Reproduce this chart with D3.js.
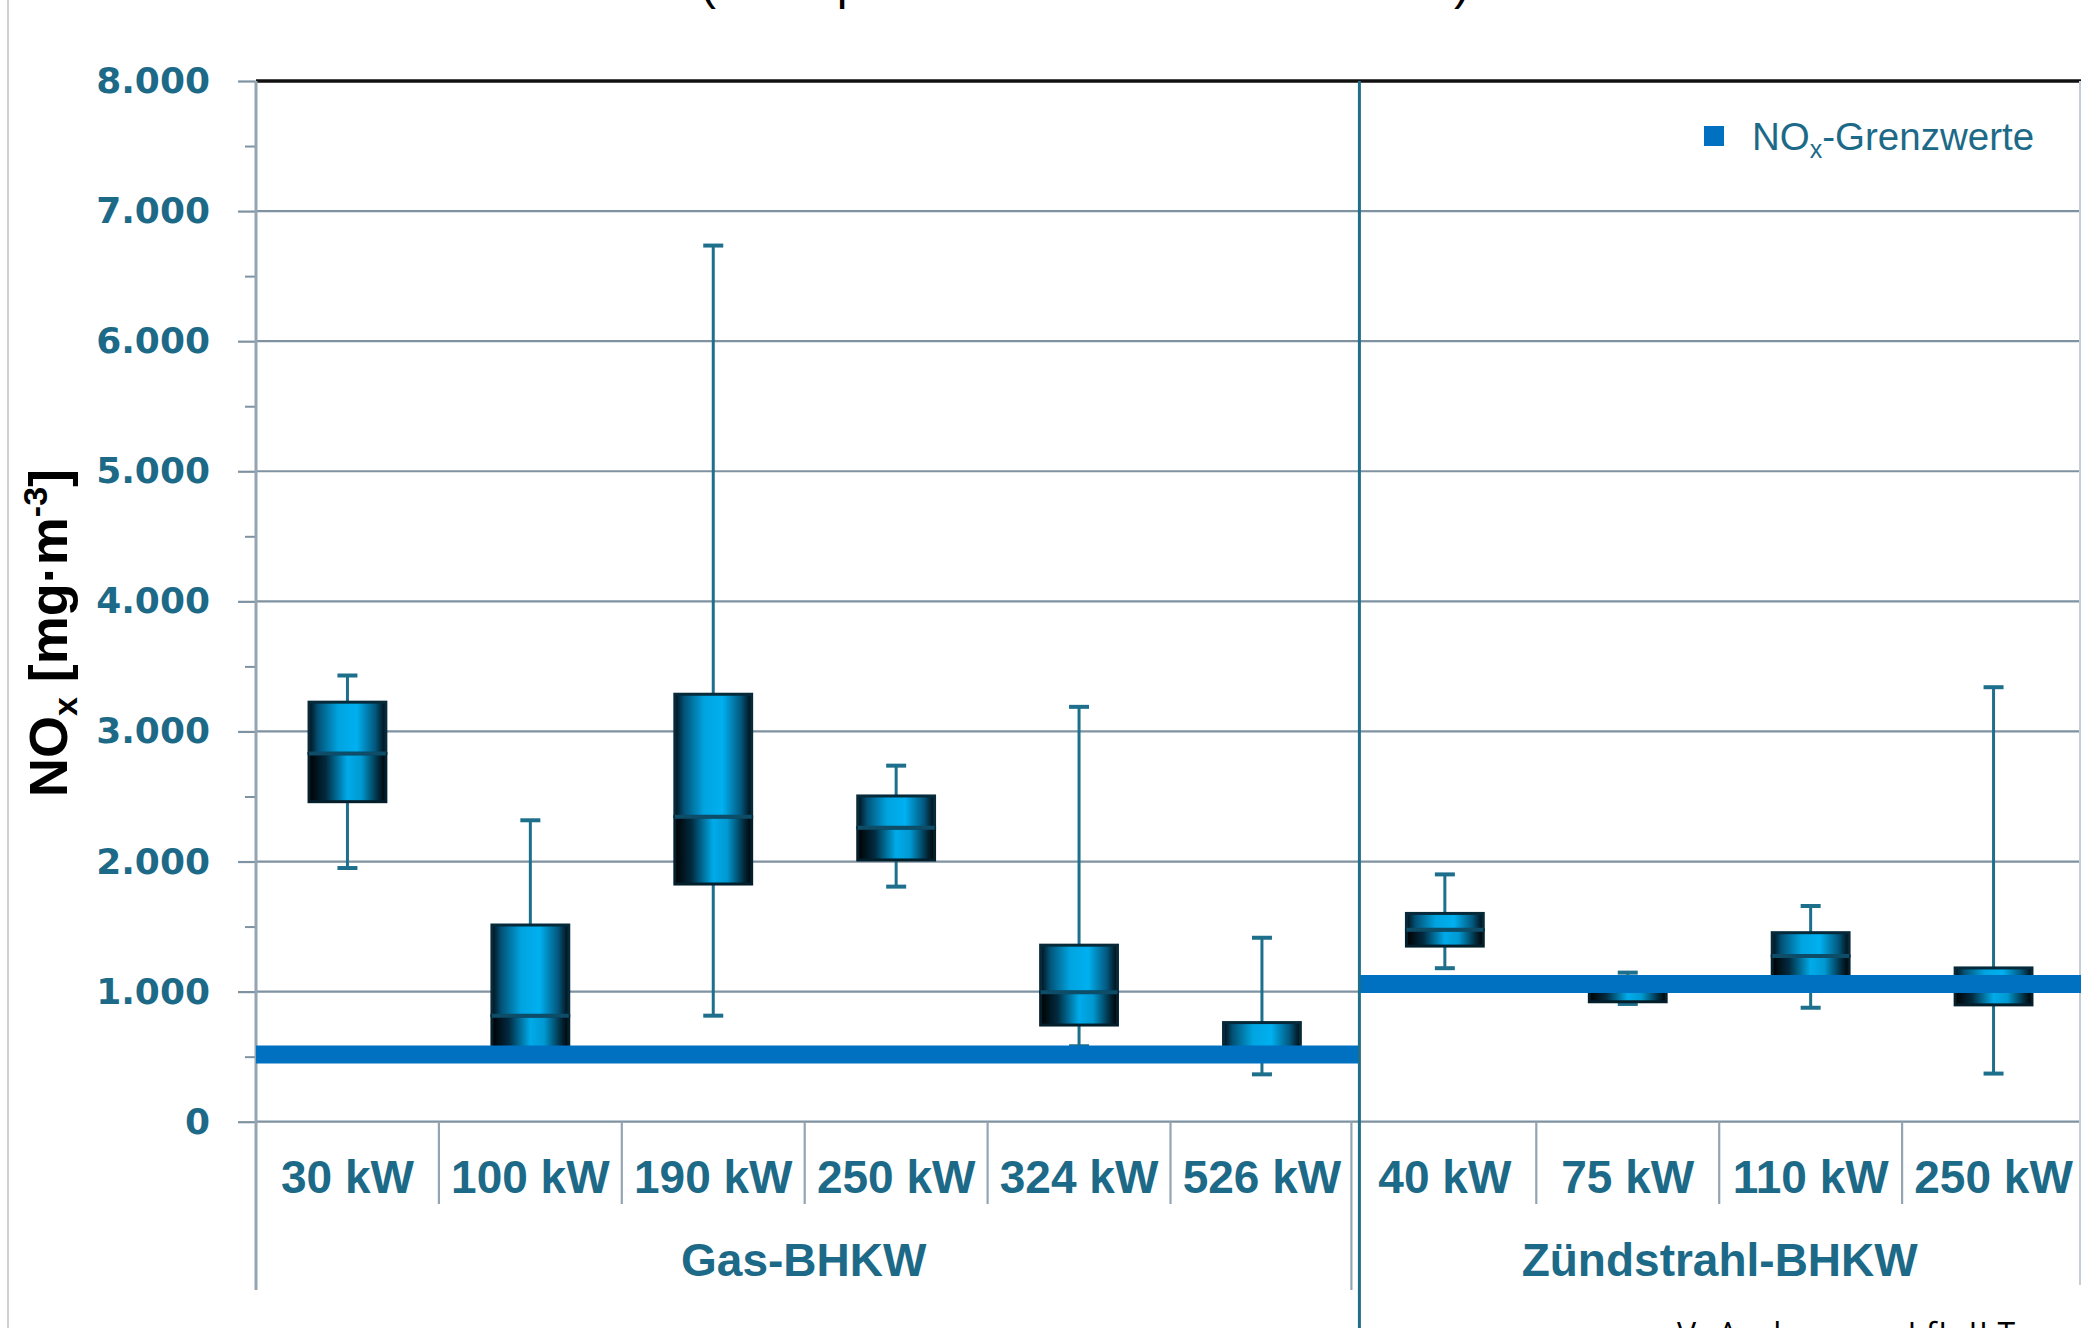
<!DOCTYPE html>
<html>
<head>
<meta charset="utf-8">
<script src="https://cdn.jsdelivr.net/npm/d3@7"></script>
<style>
  html, body { margin: 0; padding: 0; background: #ffffff; }
  svg { display: block; }
</style>
</head>
<body>
<svg id="chart" width="2081" height="1328"></svg>
<script>
// ---- data -------------------------------------------------------------
const categories = ["30 kW", "100 kW", "190 kW", "250 kW", "324 kW", "526 kW",
                    "40 kW", "75 kW", "110 kW", "250 kW"];
const groupNames = ["Gas-BHKW", "Zündstrahl-BHKW"];
const groupSizes = [6, 4];
// NOx limit per engine group [mg/m³]
const limitValues = [516, 1058];

// box plot statistics per engine [mg/m³]
const mins    = [1950,  530,  815, 1807,  580,  364, 1180,  905,  876,  370];
const q1s     = [2460,  560, 1827, 2012,  743,  500, 1350,  922, 1050,  898];
const medians = [2830,  815, 2345, 2260,  995,  560, 1476, 1010, 1274, 1050];
const q3s     = [3225, 1512, 3286, 2504, 1357,  762, 1601, 1090, 1453, 1182];
const maxs    = [3430, 2317, 6735, 2737, 3189, 1414, 1901, 1146, 1658, 3340];

const yTicks      = [0, 1000, 2000, 3000, 4000, 5000, 6000, 7000, 8000];
const yTickLabels = ["0", "1.000", "2.000", "3.000", "4.000", "5.000", "6.000", "7.000", "8.000"];
const yMinorTicks = [500, 1500, 2500, 3500, 4500, 5500, 6500, 7500];

// ---- layout -----------------------------------------------------------
const W = 2081, H = 1328;
const plot = { left: 256, top: 81, bottom: 1121.7, right: 2085 };
const TEAL = "#1c6a87";
const GRID = "#7f92a1";
const LIMIT = "#0070c0";
const SANS = "'Liberation Sans', Arial, sans-serif";

const svg = d3.select("#chart");

const y = d3.scaleLinear().domain([0, 8000]).range([plot.bottom, plot.top]);
const x = d3.scaleBand().domain(d3.range(categories.length))
            .range([plot.left, plot.right]).paddingInner(0).paddingOuter(0);
const boxW = x.bandwidth() * 0.42;

// gradients for the two halves of each box
const defs = svg.append("defs");
function gradient(id, stops) {
  const g = defs.append("linearGradient").attr("id", id)
    .attr("x1", "0%").attr("x2", "100%").attr("y1", "0%").attr("y2", "0%");
  stops.forEach(([o, c]) => g.append("stop").attr("offset", o).attr("stop-color", c));
}
gradient("upperFill", [["0%", "#020f18"], ["12%", "#035276"], ["38%", "#00a4e0"],
                       ["62%", "#00b0f0"], ["86%", "#03587e"], ["100%", "#010a10"]]);
gradient("lowerFill", [["0%", "#000000"], ["22%", "#022b40"], ["50%", "#00abea"],
                       ["68%", "#0099d2"], ["90%", "#022a3c"], ["100%", "#000000"]]);

// page border on the left
svg.append("line").attr("x1", 8).attr("x2", 8).attr("y1", 0).attr("y2", H)
  .attr("stroke", "#d2d2d2").attr("stroke-width", 2);

// partially visible heading above the chart
svg.append("text")
  .attr("x", 700).attr("y", -1)
  .attr("textLength", 770).attr("lengthAdjust", "spacing")
  .attr("font-family", SANS).attr("font-size", 48).attr("fill", "#000")
  .text("(Stichprobe an 10 Praxis-BHKW)");

// horizontal gridlines
svg.append("g").selectAll("line")
  .data(yTicks)
  .join("line")
  .attr("x1", plot.left).attr("x2", W)
  .attr("y1", d => y(d)).attr("y2", d => y(d))
  .attr("stroke", d => d === 8000 ? "#111" : GRID)
  .attr("stroke-width", d => d === 8000 ? 3.5 : 2.2);

// right frame edge
svg.append("line").attr("x1", 2080).attr("x2", 2080).attr("y1", plot.top).attr("y2", 1285)
  .attr("stroke", "#c5ced6").attr("stroke-width", 2);

// y axis
const yAxis = svg.append("g").attr("transform", `translate(${plot.left},0)`)
  .call(d3.axisLeft(y).tickValues(yTicks)
          .tickFormat((d, i) => yTickLabels[i])
          .tickSize(18).tickPadding(28));
yAxis.select(".domain").remove();
yAxis.selectAll(".tick line").attr("stroke", GRID).attr("stroke-width", 2.2);
yAxis.selectAll(".tick text")
  .attr("font-family", "'DejaVu Sans', sans-serif").attr("font-weight", "bold")
  .attr("font-size", 36).attr("fill", TEAL);

const yMinor = svg.append("g").attr("transform", `translate(${plot.left},0)`)
  .call(d3.axisLeft(y).tickValues(yMinorTicks).tickFormat("").tickSize(11));
yMinor.select(".domain").remove();
yMinor.selectAll(".tick line").attr("stroke", GRID).attr("stroke-width", 2);

svg.append("line").attr("x1", plot.left).attr("x2", plot.left)
  .attr("y1", plot.top).attr("y2", 1290)
  .attr("stroke", "#93a4b2").attr("stroke-width", 3);

// y axis title
const yTitle = svg.append("text")
  .attr("transform", "translate(67,633) rotate(-90)")
  .attr("text-anchor", "middle")
  .attr("font-family", SANS).attr("font-weight", "bold")
  .attr("font-size", 54).attr("fill", "#000");
yTitle.append("tspan").text("NO");
yTitle.append("tspan").attr("font-size", 34).attr("dy", 10).text("x");
yTitle.append("tspan").attr("dy", -10).text(" [mg·m");
yTitle.append("tspan").attr("font-size", 34).attr("dy", -20).text("-3");
yTitle.append("tspan").attr("dy", 20).text("]");

// category separators and labels
const sepIdx = d3.range(1, categories.length);
let groupStarts = [0];
groupSizes.forEach((n, i) => groupStarts.push(groupStarts[i] + n));

svg.append("g").selectAll("line")
  .data(sepIdx)
  .join("line")
  .attr("x1", d => x(d) - (groupStarts.includes(d) ? 2 : 0))
  .attr("x2", d => x(d) - (groupStarts.includes(d) ? 2 : 0))
  .attr("y1", plot.bottom)
  .attr("y2", d => groupStarts.includes(d) ? 1290 : 1204)
  .attr("stroke", "#93a4b2").attr("stroke-width", 2.2);

svg.append("g").selectAll("text")
  .data(categories)
  .join("text")
  .attr("x", (d, i) => x(i) + x.bandwidth() / 2)
  .attr("y", 1193)
  .attr("text-anchor", "middle")
  .attr("font-family", SANS).attr("font-weight", "bold")
  .attr("font-size", 46).attr("fill", TEAL)
  .text(d => d);

// group labels
svg.append("g").selectAll("text")
  .data(groupNames)
  .join("text")
  .attr("x", (d, i) => {
    const a = i === 0 ? plot.left : x(groupStarts[i]) + 6;
    const b = i === groupNames.length - 1 ? 2080 : x(groupStarts[i + 1]) - 2;
    return (a + b) / 2;
  })
  .attr("y", 1276)
  .attr("text-anchor", "middle")
  .attr("font-family", SANS).attr("font-weight", "bold")
  .attr("font-size", 46).attr("fill", TEAL)
  .text(d => d);

// whiskers
const stats = categories.map((c, i) => ({
  i, min: mins[i], q1: q1s[i], med: medians[i], q3: q3s[i], max: maxs[i],
  cx: x(i) + x.bandwidth() / 2
}));
const WHISK = "#1d6f8c";
const wg = svg.append("g");
wg.selectAll("line.stem")
  .data(stats).join("line").attr("class", "stem")
  .attr("x1", d => d.cx).attr("x2", d => d.cx)
  .attr("y1", d => y(d.max)).attr("y2", d => y(d.min))
  .attr("stroke", WHISK).attr("stroke-width", 3);
["max", "min"].forEach(k => {
  wg.selectAll("line.cap-" + k)
    .data(stats).join("line").attr("class", "cap-" + k)
    .attr("x1", d => d.cx - 10).attr("x2", d => d.cx + 10)
    .attr("y1", d => y(d[k])).attr("y2", d => y(d[k]))
    .attr("stroke", WHISK).attr("stroke-width", 4);
});

// boxes: lower half (q1 - median) and upper half (median - q3)
const bg = svg.append("g");
bg.selectAll("rect.lower")
  .data(stats).join("rect").attr("class", "lower")
  .attr("x", d => d.cx - boxW / 2).attr("width", boxW)
  .attr("y", d => y(d.med)).attr("height", d => y(d.q1) - y(d.med))
  .attr("fill", "url(#lowerFill)")
  .attr("stroke", "#041f2c").attr("stroke-width", 3);
bg.selectAll("rect.upper")
  .data(stats).join("rect").attr("class", "upper")
  .attr("x", d => d.cx - boxW / 2).attr("width", boxW)
  .attr("y", d => y(d.q3)).attr("height", d => y(d.med) - y(d.q3))
  .attr("fill", "url(#upperFill)")
  .attr("stroke", "#062a3a").attr("stroke-width", 3);
bg.selectAll("line.median")
  .data(stats).join("line").attr("class", "median")
  .attr("x1", d => d.cx - boxW / 2).attr("x2", d => d.cx + boxW / 2)
  .attr("y1", d => y(d.med)).attr("y2", d => y(d.med))
  .attr("stroke", "#0d4d68").attr("stroke-width", 4);

// limit lines per group
svg.append("g").selectAll("line")
  .data(limitValues)
  .join("line")
  .attr("x1", (d, i) => i === 0 ? plot.left : x(groupStarts[i]) + 6)
  .attr("x2", (d, i) => i === limitValues.length - 1 ? W : x(groupStarts[i + 1]) + 6)
  .attr("y1", d => y(d)).attr("y2", d => y(d))
  .attr("stroke", LIMIT).attr("stroke-width", 18);

// divider between engine groups
groupStarts.slice(1, -1).forEach(s => {
  svg.append("line")
    .attr("x1", x(s) + 6).attr("x2", x(s) + 6)
    .attr("y1", plot.top).attr("y2", H)
    .attr("stroke", "#1f6f8b").attr("stroke-width", 3);
});

// legend
svg.append("rect").attr("x", 1704).attr("y", 126).attr("width", 20).attr("height", 20)
  .attr("fill", LIMIT);
const leg = svg.append("text").attr("x", 1752).attr("y", 150)
  .attr("font-family", SANS).attr("font-size", 38.5).attr("fill", TEAL);
leg.append("tspan").text("NO");
leg.append("tspan").attr("font-size", 25).attr("dy", 8).text("x");
leg.append("tspan").attr("dy", -8).text("-Grenzwerte");

// author credit, cut at the lower edge
svg.append("text")
  .attr("x", 1677).attr("y", 1346)
  .attr("textLength", 338).attr("lengthAdjust", "spacing")
  .attr("font-family", "'Open Sans', sans-serif").attr("font-size", 32).attr("fill", "#000")
  .text("V. Aschmann, LfL-ILT");
</script>
</body>
</html>
